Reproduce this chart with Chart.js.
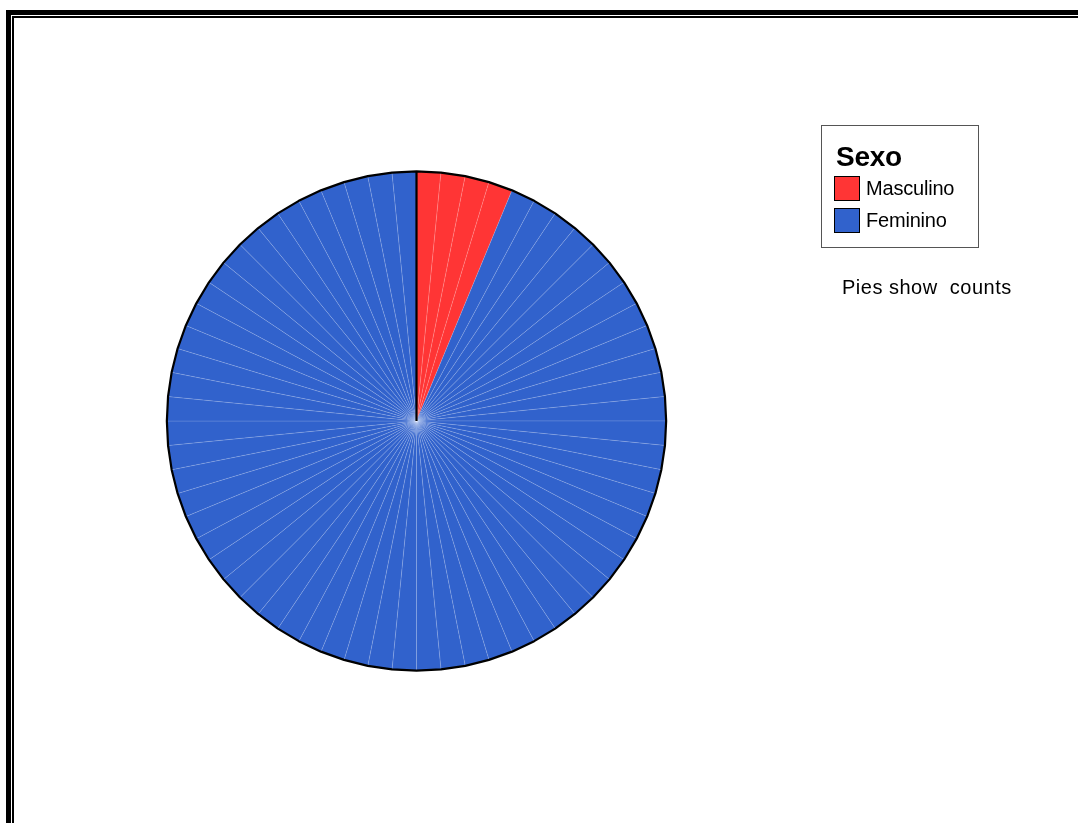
<!DOCTYPE html>
<html>
<head>
<meta charset="utf-8">
<script src="https://cdn.jsdelivr.net/npm/chart.js@4"></script>
<style>
  body { margin: 0; background: #fff; font-family: "Liberation Sans", Arial, sans-serif; }
  #wrap { position: relative; width: 1078px; height: 823px; overflow: hidden; }
  #pie { position: absolute; left: 0; top: 0; }
  .frame { position: absolute; border-style: solid; border-color: #000; border-right: none; border-bottom: none; }
  #frameOuter { left: 6px; top: 10px; width: 1200px; height: 1000px; border-width: 5px 0 0 5px; }
  #frameInner { left: 12px; top: 16px; width: 1200px; height: 1000px; border-width: 2px 0 0 2px; }
  #legend { position: absolute; left: 821px; top: 125px; width: 156px; height: 121px; border: 1.5px solid #555; }
  #legend .titulo { position: absolute; left: 14px; top: 15px; font-size: 28px; font-weight: bold; color: #000; letter-spacing: -0.3px; }
  #legend .item { position: absolute; left: 12px; height: 25px; font-size: 20px; letter-spacing: -0.2px; line-height: 25px; }
  #legend .item span.caja { position: absolute; left: 0; top: 0; width: 24px; height: 23px; border: 1px solid #000; }
  #legend .item span.txt { position: absolute; left: 32px; top: 0; white-space: nowrap; }
  #nota { position: absolute; left: 842px; top: 276px; font-size: 20px; letter-spacing: 0.5px; color: #000; white-space: nowrap; }
</style>
</head>
<body>
<div id="wrap">
  <div class="frame" id="frameOuter"></div>
  <div class="frame" id="frameInner"></div>
  <canvas id="pie" width="1078" height="823"></canvas>
  <div id="legend"><div class="titulo">Sexo</div></div>
  <div id="nota">Pies show&nbsp; counts</div>
</div>
<script>
// Sexo: casos por categoría
const categorias = ["Masculino", "Femenino"];
const etiquetas = ["Masculino", "Feminino"];
const conteos = [4, 60];
const colores = ["#FF3535", "#3162CC"];

// Un sector por caso, como en el gráfico original
const valores = [];
const coloresSector = [];
const nombres = [];
conteos.forEach((n, i) => {
    for (let k = 0; k < n; k++) {
        valores.push(1);
        coloresSector.push(colores[i]);
        nombres.push(categorias[i]);
    }
});

// Leyenda
const leyenda = document.getElementById('legend');
etiquetas.forEach((t, i) => {
    const it = document.createElement('div');
    it.className = 'item';
    it.style.top = (50 + i * 32) + 'px';
    it.innerHTML = '<span class="caja" style="background:' + colores[i] + '"></span><span class="txt">' + t + '</span>';
    leyenda.appendChild(it);
});

// Contorno poligonal negro y línea de inicio
const contorno = {
    id: 'contorno',
    afterDatasetsDraw(chart) {
        const arcos = chart.getDatasetMeta(0).data;
        const ctx = chart.ctx;
        ctx.save();
        ctx.strokeStyle = '#000';
        ctx.lineWidth = 2.2;
        ctx.lineJoin = 'round';
        ctx.beginPath();
        arcos.forEach((a, i) => {
            const r = a.outerRadius;
            const x0 = a.x + r * Math.cos(a.startAngle), y0 = a.y + r * Math.sin(a.startAngle);
            const x1 = a.x + r * Math.cos(a.endAngle), y1 = a.y + r * Math.sin(a.endAngle);
            if (i === 0) ctx.moveTo(x0, y0);
            ctx.lineTo(x1, y1);
        });
        ctx.closePath();
        ctx.stroke();
        const a0 = arcos[0];
        ctx.beginPath();
        ctx.moveTo(a0.x, a0.y);
        ctx.lineTo(a0.x + a0.outerRadius * Math.cos(a0.startAngle), a0.y + a0.outerRadius * Math.sin(a0.startAngle));
        ctx.stroke();
        ctx.restore();
    }
};

new Chart(document.getElementById("pie"), {
    type: "pie",
    data: {
        labels: nombres,
        datasets: [{
            data: valores,
            backgroundColor: coloresSector,
            borderColor: "rgba(255,255,255,0.2)",
            borderWidth: 0.7
        }]
    },
    options: {
        responsive: false,
        animation: false,
        layout: { padding: { left: 166, top: 171, right: 411, bottom: 152 } },
        plugins: {
            legend: { display: false },
            tooltip: { enabled: false }
        }
    },
    plugins: [contorno]
});
</script>
</body>
</html>
